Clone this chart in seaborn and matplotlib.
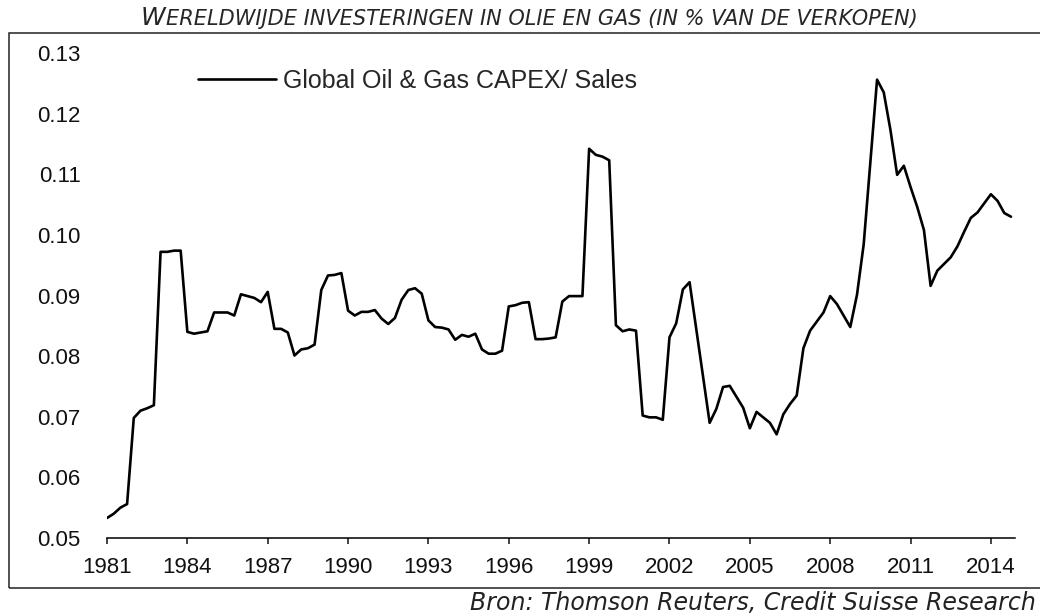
import numpy as np
import pandas as pd
import matplotlib
matplotlib.use("Agg")
import matplotlib.pyplot as plt
import seaborn as sns
from matplotlib.patches import Rectangle
from matplotlib.ticker import FormatStrFormatter

# quarterly CAPEX / sales ratio
capex_1980s = [
    0.0533, 0.0540, 0.0550, 0.0556,  # 1981
    0.0698, 0.0710, 0.0714, 0.0719,  # 1982
    0.0972, 0.0972, 0.0974, 0.0974,  # 1983
    0.0840, 0.0837, 0.0839, 0.0841,  # 1984
    0.0872, 0.0872, 0.0872, 0.0867,  # 1985
    0.0902, 0.0899, 0.0896, 0.0889,  # 1986
    0.0906, 0.0845, 0.0845, 0.0839,  # 1987
    0.0801, 0.0811, 0.0813, 0.0819,  # 1988
    0.0909, 0.0933, 0.0934, 0.0937,  # 1989
]
capex_1990s = [
    0.0875, 0.0867, 0.0873, 0.0873,  # 1990
    0.0876, 0.0862, 0.0853, 0.0863,  # 1991
    0.0893, 0.0909, 0.0912, 0.0903,  # 1992
    0.0859, 0.0848, 0.0847, 0.0844,  # 1993
    0.0827, 0.0835, 0.0832, 0.0837,  # 1994
    0.0811, 0.0804, 0.0804, 0.0809,  # 1995
    0.0882, 0.0884, 0.0888, 0.0889,  # 1996
    0.0828, 0.0828, 0.0829, 0.0831,  # 1997
    0.0890, 0.0899, 0.0899, 0.0899,  # 1998
    0.1142, 0.1132, 0.1129, 0.1123,  # 1999
]
capex_2000s = [
    0.0851, 0.0841, 0.0844, 0.0842,  # 2000
    0.0702, 0.0699, 0.0699, 0.0695,  # 2001
    0.0831, 0.0854, 0.0910, 0.0922,  # 2002
    0.0845, 0.0768, 0.0690, 0.0713,  # 2003
    0.0749, 0.0751, 0.0733, 0.0715,  # 2004
    0.0681, 0.0708, 0.0699, 0.0690,  # 2005
    0.0671, 0.0704, 0.0721, 0.0735,  # 2006
    0.0813, 0.0842, 0.0857, 0.0872,  # 2007
    0.0899, 0.0886, 0.0867, 0.0848,  # 2008
    0.0901, 0.0984, 0.1120, 0.1256,  # 2009
]
capex_2010s = [
    0.1235, 0.1173, 0.1099, 0.1114,  # 2010
    0.1079, 0.1046, 0.1008, 0.0916,  # 2011
    0.0941, 0.0952, 0.0963, 0.0981,  # 2012
    0.1005, 0.1028, 0.1037, 0.1052,  # 2013
    0.1067, 0.1056, 0.1036, 0.1030,  # 2014
]

first_year = 1981
year_ticks = list(range(1981, 2015, 3))
value_ticks = [0.05, 0.06, 0.07, 0.08, 0.09, 0.10, 0.11, 0.12, 0.13]
series_label = "Global Oil & Gas CAPEX/ Sales"
title_text = "Wereldwijde investeringen in olie en gas (in % van de verkopen)".upper()
source_text = "Bron: Thomson Reuters, Credit Suisse Research"

values = capex_1980s + capex_1990s + capex_2000s + capex_2010s
df = pd.DataFrame({
    "year": first_year + np.arange(len(values)) / 4,
    "ratio": values,
})

sns.set_style("white")
plt.rcParams["font.family"] = ["Liberation Sans", "DejaVu Sans"]

W, H = 1040, 615
fig = plt.figure(figsize=(W / 100, H / 100), dpi=100)
ax = fig.add_axes([107 / W, 1 - 538 / H, (1015 - 107) / W, (538 - 53) / H])

sns.lineplot(data=df, x="year", y="ratio", color="black", linewidth=1.9,
             label=series_label, ax=ax)

ax.set_xlim(1981, 2014.9)
ax.set_ylim(0.05, 0.13)
ax.set_xticks(year_ticks)
ax.set_yticks(value_ticks)
ax.yaxis.set_major_formatter(FormatStrFormatter("%.2f"))
ax.set_xlabel("")
ax.set_ylabel("")

for side in ["top", "right", "left"]:
    ax.spines[side].set_visible(False)
ax.spines["bottom"].set_linewidth(1.1)
ax.spines["bottom"].set_color("black")

ax.tick_params(axis="x", direction="out", length=4.5, width=1.1, pad=9,
               labelsize=16, colors="#111111", bottom=True)
ax.tick_params(axis="y", length=0, pad=19, labelsize=16, colors="#111111")

leg = ax.legend(loc="center left", bbox_to_anchor=((198 - 107) / 908, (538 - 81) / 485),
                frameon=False, fontsize=18, handlelength=3.1, handletextpad=0.3,
                borderpad=0, borderaxespad=0)
for line in leg.get_lines():
    line.set_linewidth(1.9)

# outer frame, open on the right like the cropped original
fig.add_artist(Rectangle((9 / W, 1 - 588 / H), 1.05, (588 - 33) / H, fill=False,
                         edgecolor="#222222", linewidth=1.1,
                         transform=fig.transFigure, clip_on=False))

# title in pseudo small caps: first letter bigger
t_first = fig.text(0, 1 - 25 / H, title_text[0], fontsize=18, style="italic",
                   family="DejaVu Sans", va="baseline", ha="left")
t_rest = fig.text(0, 1 - 25 / H, title_text[1:], fontsize=15, style="italic",
                  family="DejaVu Sans", va="baseline", ha="left")
fig.canvas.draw()
r = fig.canvas.get_renderer()
w_first = t_first.get_window_extent(r).width
w_rest = t_rest.get_window_extent(r).width
start = 529 - (w_first + w_rest) / 2
t_first.set_x(start / W)
t_rest.set_x((start + w_first) / W)

fig.text(1036 / W, 1 - 610 / H, source_text, fontsize=17, style="italic",
         family="DejaVu Sans", va="baseline", ha="right", color="#222222")

fig.savefig("out.png", dpi=100)
